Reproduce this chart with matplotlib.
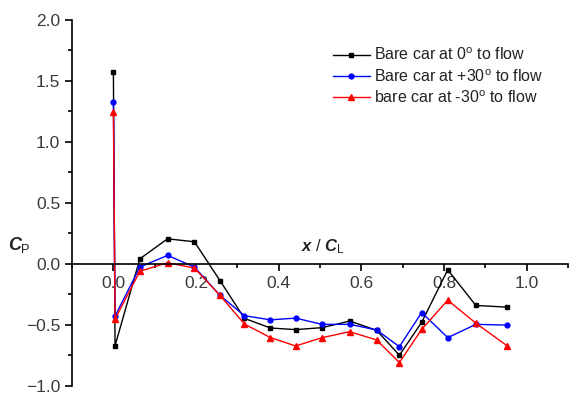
import matplotlib.pyplot as plt
from matplotlib.ticker import MultipleLocator

plt.rcParams['font.family'] = ['Liberation Sans', 'DejaVu Sans']
plt.rcParams['mathtext.fontset'] = 'custom'
plt.rcParams['mathtext.it'] = 'Liberation Sans:italic:bold'
plt.rcParams['mathtext.rm'] = 'Liberation Sans'
plt.rcParams['mathtext.bf'] = 'Liberation Sans:bold'

# x / C_L stations
x_pos = [0.0, 0.004, 0.064, 0.131, 0.196, 0.258, 0.317, 0.380, 0.441,
         0.505, 0.572, 0.637, 0.692, 0.746, 0.809, 0.877, 0.953]

# Cp values
cp_0 = [1.575, -0.672, 0.04, 0.204, 0.18, -0.139, -0.448, -0.527, -0.54,
        -0.524, -0.47, -0.546, -0.75, -0.48, -0.05, -0.342, -0.356]
cp_p30 = [1.328, -0.43, -0.027, 0.068, -0.027, -0.26, -0.426, -0.46, -0.446,
          -0.497, -0.497, -0.543, -0.68, -0.40, -0.606, -0.497, -0.503]
cp_m30 = [1.244, -0.454, -0.062, 0.008, -0.035, -0.26, -0.494, -0.606, -0.674,
          -0.606, -0.557, -0.625, -0.81, -0.538, -0.299, -0.487, -0.674]

labels = ['Bare car at 0$^{\\mathrm{o}}$ to flow',
          'Bare car at +30$^{\\mathrm{o}}$ to flow',
          'bare car at -30$^{\\mathrm{o}}$ to flow']

fig = plt.figure(figsize=(5.72, 3.94), dpi=100)
ax = fig.add_axes([0.126, 0.021, 0.867, 0.929])

ax.plot(x_pos, cp_0, color='black', marker='s', ms=3.5, lw=1, label=labels[0])
ax.plot(x_pos, cp_p30, color='blue', marker='o', ms=3.5, lw=1, label=labels[1])
ax.plot(x_pos, cp_m30, color='red', marker='^', ms=4, lw=1, label=labels[2])

ax.set_xlim(-0.1, 1.1)
ax.set_ylim(-1.0, 2.0)

ax.spines['top'].set_visible(False)
ax.spines['right'].set_visible(False)
ax.spines['bottom'].set_position(('data', 0))
ax.spines['left'].set_linewidth(1.2)
ax.spines['bottom'].set_linewidth(1.2)

ax.xaxis.set_major_locator(MultipleLocator(0.2))
ax.xaxis.set_minor_locator(MultipleLocator(0.1))
ax.yaxis.set_major_locator(MultipleLocator(0.5))
ax.yaxis.set_minor_locator(MultipleLocator(0.25))
ax.tick_params(which='major', length=5, width=1.2, labelsize=12.5, labelcolor='#3a3a3a')
ax.tick_params(which='minor', length=3, width=1.2)

ax.set_xticks([0.0, 0.2, 0.4, 0.6, 0.8, 1.0])
ax.set_xticklabels(['0.0', '0.2', '0.4', '0.6', '0.8', '1.0'])

ax.text(-0.228, 0.15, '$C_{\\mathrm{P}}$', fontsize=13,
        ha='center', va='center', color='#222222')
ax.text(0.508, 0.14, '$x$ / $C_{\\mathrm{L}}$', fontsize=12,
        ha='center', va='center', color='#222222')

ax.legend(loc='upper left', bbox_to_anchor=(0.497, 0.965), frameon=False, fontsize=11.5,
          handlelength=2.3, labelspacing=0.28, handletextpad=0.3, labelcolor='#222222')

fig.savefig('out.png', dpi=100)
